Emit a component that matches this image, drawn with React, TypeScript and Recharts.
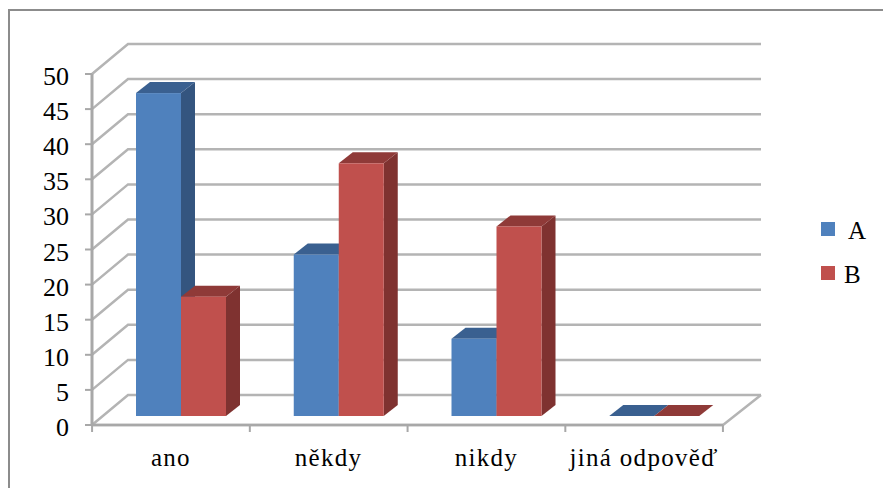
import { Bar, BarChart, CartesianGrid, Legend, XAxis, YAxis } from "recharts";

const categories = ["ano", "někdy", "nikdy", "jiná odpověď"];
const seriesA = [46, 23, 11, 0];
const seriesB = [17, 36, 27, 0];
const yTicks = [0, 5, 10, 15, 20, 25, 30, 35, 40, 45, 50];

const data = categories.map((name, i) => ({ name, A: seriesA[i], B: seriesB[i] }));

const BLUE = { front: "#4f81bd", side: "#34557f", top: "#3a6090" };
const RED = { front: "#c0504d", side: "#7f3230", top: "#8f3a38" };
const GRID = "#b4b4b4";
const AXIS = "#a8a8a8";
const FONT = "'Liberation Serif', 'Times New Roman', serif";

// how far the back wall sits behind the axis plane
const WALL_DX = 36;
const WALL_DY = 30;
const WALL_DX_RIGHT = 38;
// bars stand part way into the floor
const BAR_DX = 10;
const BAR_DY = 9;
const DEPTH_X = 14;
const DEPTH_Y = 11;
const BAND = 157.6;

function WallLine(props: any) {
  const { x1, x2, y1 } = props;
  const bx = x1 + WALL_DX;
  const by = y1 - WALL_DY;
  return (
    <g>
      <path d={`M${x1},${y1}L${bx},${by}L${x2 + WALL_DX_RIGHT},${by}`} fill="none" stroke={GRID} strokeWidth={2.5} />
      {y1 > 400 ? (
        <path d={`M${x1},${y1}L${x2},${y1}L${x2 + WALL_DX_RIGHT},${by}`} fill="none" stroke={GRID} strokeWidth={2.5} />
      ) : null}
    </g>
  );
}

function Bar3D(props: any) {
  const { x, y, width, height, colors } = props;
  const left = x + BAR_DX;
  const top = y - BAR_DY;
  const right = left + width;
  const bottom = top + height;
  return (
    <g>
      <path
        d={`M${right},${top}L${right + DEPTH_X},${top - DEPTH_Y}L${right + DEPTH_X},${bottom - DEPTH_Y}L${right},${bottom}Z`}
        fill={colors.side}
      />
      <path
        d={`M${left},${top}L${left + DEPTH_X},${top - DEPTH_Y}L${right + DEPTH_X},${top - DEPTH_Y}L${right},${top}Z`}
        fill={colors.top}
      />
      <rect x={left} y={top} width={width} height={height} fill={colors.front} />
    </g>
  );
}

function CategoryTick(props: any) {
  const { x, y, payload, index } = props;
  const left = x - BAND / 2;
  return (
    <g>
      <line x1={left} x2={left} y1={y - 8} y2={y - 1} stroke={AXIS} strokeWidth={2} />
      {index === categories.length - 1 ? (
        <line x1={left + BAND} x2={left + BAND} y1={y - 8} y2={y - 1} stroke={AXIS} strokeWidth={2} />
      ) : null}
      <text x={x} y={y + 33} textAnchor="middle" fontFamily={FONT} fontSize={25} letterSpacing={1.3} fill="#000">
        {payload.value}
      </text>
    </g>
  );
}

function ValueTick(props: any) {
  const { x, y, payload } = props;
  return (
    <text x={x} y={y + 11} textAnchor="end" fontFamily={FONT} fontSize={26} fill="#000">
      {payload.value}
    </text>
  );
}

function LegendBox() {
  const items = [
    { name: "A", color: BLUE.front, gap: 13 },
    { name: "B", color: RED.front, gap: 9 },
  ];
  return (
    <div style={{ fontFamily: FONT, fontSize: 25, color: "#000" }}>
      {items.map((it) => (
        <div key={it.name} style={{ display: "flex", alignItems: "center", height: 44 }}>
          <span style={{ width: 14, height: 14, background: it.color, marginRight: it.gap }} />
          <span style={{ position: "relative", top: 2 }}>{it.name}</span>
        </div>
      ))}
    </div>
  );
}

export default function App() {
  return (
    <div style={{ position: "absolute", left: 0, top: 0, width: 883, height: 488, overflow: "hidden", background: "#fff" }}>
      <div
        style={{
          position: "absolute",
          left: 8,
          top: 9,
          right: -4,
          bottom: -4,
          borderLeft: "2px solid #8c8c8c",
          borderTop: "2px solid #8c8c8c",
        }}
      />
      <BarChart
        width={883}
        height={488}
        data={data}
        margin={{ top: 74, right: 160, bottom: 0, left: 0 }}
        barSize={45}
        barGap={0}
        style={{ position: "absolute", left: 0, top: 0 }}
      >
        <CartesianGrid vertical={false} horizontal={(p: any) => <WallLine key={p.index} {...p} />} />
        <XAxis dataKey="name" height={63} axisLine={{ stroke: AXIS, strokeWidth: 2.5 }} tickLine={false} tick={<CategoryTick />} interval={0} />
        <YAxis
          width={92}
          domain={[0, 50]}
          ticks={yTicks}
          interval={0}
          axisLine={{ stroke: AXIS, strokeWidth: 3 }}
          tickLine={{ stroke: AXIS, strokeWidth: 2 }}
          tickSize={7}
          tickMargin={16}
          tick={<ValueTick />}
        />
        <Legend
          layout="vertical"
          align="center"
          verticalAlign="middle"
          content={<LegendBox />}
          wrapperStyle={{ left: 821, top: 207, width: 60 }}
        />
        <Bar dataKey="A" isAnimationActive={false} shape={<Bar3D colors={BLUE} />} />
        <Bar dataKey="B" isAnimationActive={false} shape={<Bar3D colors={RED} />} />
      </BarChart>
    </div>
  );
}
